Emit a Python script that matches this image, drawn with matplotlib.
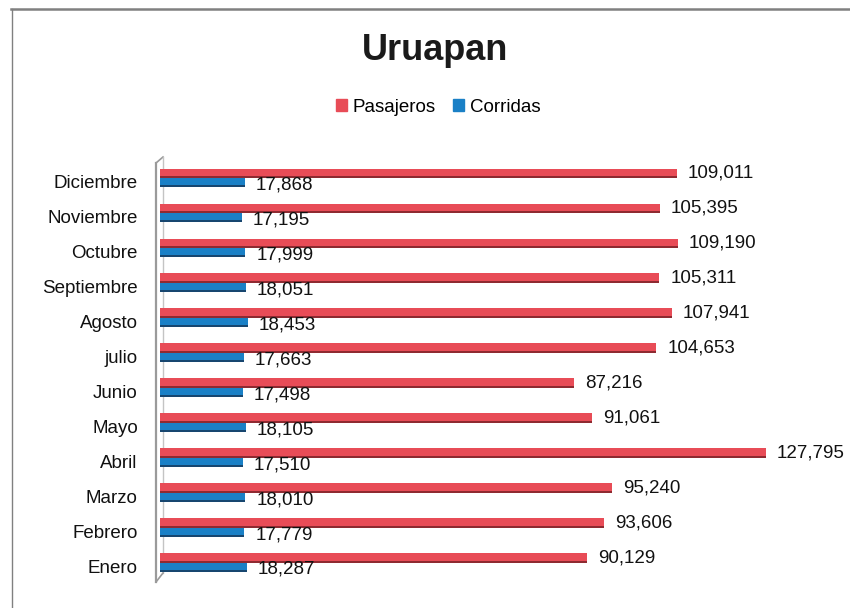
import matplotlib.pyplot as plt
import matplotlib.transforms as mtransforms
from matplotlib.lines import Line2D
from matplotlib.patches import Patch
import numpy as np

meses = ['Enero', 'Febrero', 'Marzo', 'Abril', 'Mayo', 'Junio',
         'julio', 'Agosto', 'Septiembre', 'Octubre', 'Noviembre', 'Diciembre']
pasajeros = [90129, 93606, 95240, 127795, 91061, 87216,
             104653, 107941, 105311, 109190, 105395, 109011]
corridas = [18287, 17779, 18010, 17510, 18105, 17498,
            17663, 18453, 18051, 17999, 17195, 17868]

rojo, rojo_osc = '#E84C57', '#8E2A31'
azul, azul_osc = '#1A80C6', '#17466F'
fuente = ['Liberation Sans', 'DejaVu Sans']

fig = plt.figure(figsize=(8.5, 6.08), dpi=100)
W, H = 850, 608
ax = fig.add_axes([160 / W, (H - 582) / H, 664 / W, 425 / H])

y = np.arange(len(meses))
h = 0.27
off = 0.135

# barras con un borde inferior oscuro para dar algo de relieve
ax.barh(y + off, pasajeros, height=h, color=rojo, zorder=2)
ax.barh(y + off - h / 2 + 0.03, pasajeros, height=0.06, color=rojo_osc, zorder=3)
ax.barh(y - off, corridas, height=h, color=azul, zorder=2)
ax.barh(y - off - h / 2 + 0.03, corridas, height=0.06, color=azul_osc, zorder=3)

for yi, p, c in zip(y, pasajeros, corridas):
    ax.annotate(f'{p:,}', (p, yi + off), xytext=(11, 0), textcoords='offset pixels',
                ha='left', va='center', fontsize=13.5, family=fuente, color='#111111')
    ax.annotate(f'{c:,}', (c, yi - off), xytext=(11, -2), textcoords='offset pixels',
                ha='left', va='center', fontsize=13.5, family=fuente, color='#111111')

ax.set_xlim(0, 140000)
ax.set_ylim(-0.55, 11.6)
ax.set_yticks(y)
ax.set_yticklabels(meses, fontsize=13.5, family=fuente, color='#111111')
ax.tick_params(axis='y', length=0, pad=16)
ax.set_xticks([])
for s in ax.spines.values():
    s.set_visible(False)
desplaza = mtransforms.ScaledTranslation(0, -4 / 100, fig.dpi_scale_trans)
for lbl in ax.get_yticklabels():
    lbl.set_transform(lbl.get_transform() + desplaza)

# pared izquierda en perspectiva
px = 1 / 664
py = 1 / 425
pared = [
    ([-4 * px, -4 * px], [0, 1 - 6 * py], '#9A9A9A', 1.6),
    ([-4 * px, 3 * px], [1 - 6 * py, 1], '#9A9A9A', 1.2),
    ([3 * px, 3 * px], [9 * py, 1], '#C4C4C4', 1.0),
    ([-4 * px, 3 * px], [0, 9 * py], '#9A9A9A', 1.2),
]
for xs, ys, col, lw in pared:
    ax.add_line(Line2D(xs, ys, transform=ax.transAxes, color=col, lw=lw,
                       clip_on=False, zorder=1))

fig.text(435 / W, 1 - 50 / H, 'Uruapan', ha='center', va='center',
         fontsize=26, fontweight='bold',
         family=['Liberation Sans Narrow', 'Liberation Sans', 'DejaVu Sans'],
         color='#1A1A1A')

handles = [Patch(color=rojo), Patch(color=azul)]
fig.legend(handles, ['Pasajeros', 'Corridas'], loc='center',
           bbox_to_anchor=(438 / W, 1 - 107 / H), ncol=2, frameon=False,
           prop={'family': fuente, 'size': 13.5},
           handlelength=0.6, handleheight=0.6, handletextpad=0.3,
           columnspacing=0.9)

# marco del area del grafico
fig.add_artist(Line2D([11 / W, 1], [1 - 8.5 / H, 1 - 8.5 / H],
                      transform=fig.transFigure, color='#808080', lw=1.8))
fig.add_artist(Line2D([11.5 / W, 11.5 / W], [0, 1 - 8.5 / H],
                      transform=fig.transFigure, color='#808080', lw=1.0))

fig.savefig('out.png', dpi=100)
